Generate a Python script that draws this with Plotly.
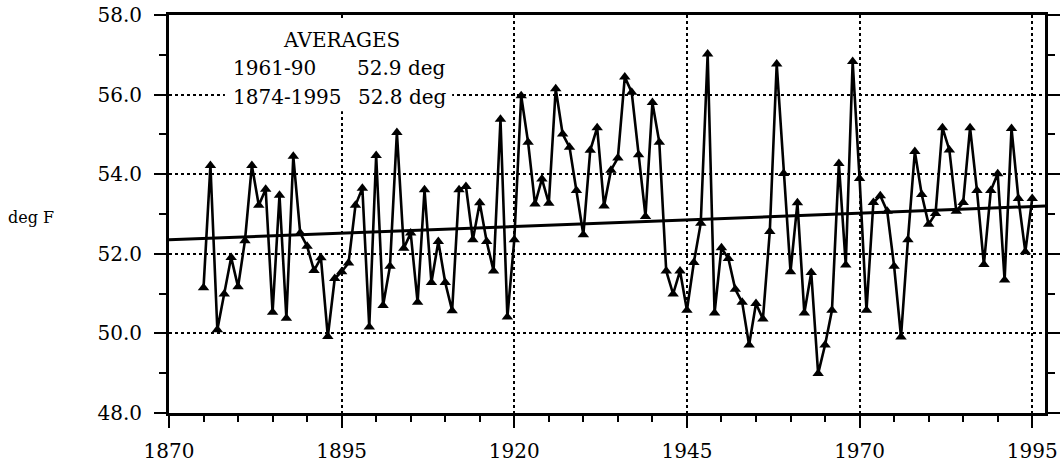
import plotly.graph_objects as go

# ---- data ----
years = list(range(1875, 1996))
temps = [
    51.15, 54.22, 50.09, 50.99, 51.91, 51.17, 52.33, 54.22, 53.22, 53.62,   # 1875-1884
    50.53, 53.47, 50.38, 54.45, 52.52, 52.19, 51.58, 51.90, 49.92, 51.38,   # 1885-1894
    51.55, 51.77, 53.22, 53.65, 50.16, 54.47, 50.70, 51.69, 55.05, 52.14,   # 1895-1904
    52.52, 50.78, 53.61, 51.28, 52.31, 51.28, 50.57, 53.61, 53.69, 52.35,   # 1905-1914
    53.28, 52.31, 51.57, 55.38, 50.41, 52.35, 55.97, 54.80, 53.25, 53.88,   # 1915-1924
    53.27, 56.15, 55.01, 54.68, 53.59, 52.48, 54.60, 55.17, 53.20, 54.10,   # 1925-1934
    54.41, 56.44, 56.06, 54.49, 52.94, 55.80, 54.80, 51.57, 50.99, 51.57,   # 1935-1944
    50.58, 51.78, 52.77, 57.02, 50.51, 52.15, 51.88, 51.11, 50.78, 49.71,   # 1945-1954
    50.75, 50.36, 52.56, 56.77, 54.02, 51.55, 53.28, 50.51, 51.53, 48.99,   # 1955-1964
    49.71, 50.58, 54.27, 51.72, 56.83, 53.89, 50.58, 53.29, 53.46, 53.07,   # 1965-1974
    51.69, 49.91, 52.35, 54.57, 53.49, 52.74, 53.01, 55.17, 54.61, 53.07,   # 1975-1984
    53.29, 55.17, 53.59, 51.73, 53.59, 54.01, 51.34, 55.15, 53.39, 52.05,   # 1985-1994
    53.39,                                                                  # 1995
]
assert len(years) == len(temps)

trend_years = [1870, 1996.85]
trend_vals = [52.35, 53.20]

x_ticks = [1870, 1895, 1920, 1945, 1970, 1995]
y_ticks = [48, 50, 52, 54, 56, 58]

FONT = "DejaVu Serif"

fig = go.Figure()
fig.add_trace(go.Scatter(
    x=years, y=temps, mode="lines+markers",
    line=dict(color="black", width=2.6),
    marker=dict(symbol="triangle-up", size=10, color="black"),
    showlegend=False,
))
fig.add_trace(go.Scatter(
    x=trend_years, y=trend_vals, mode="lines",
    line=dict(color="black", width=3),
    showlegend=False,
))

axis_common = dict(
    showline=True, linecolor="black", linewidth=3,
    ticks="outside", tickcolor="black", tickwidth=2, ticklen=12,
    showgrid=True, gridcolor="black", gridwidth=2, griddash="dot",
    zeroline=False, automargin=False, ticklabeloverflow="allow",
    tickfont=dict(family=FONT, size=20, color="black"),
)

fig.update_xaxes(
    range=[1870, 1996.85], tickvals=x_ticks, mirror=True,
    minor=dict(dtick=5, tick0=1870, ticks="outside", ticklen=6, tickwidth=2, tickcolor="black", showgrid=False),
    ticklabelstandoff=6,
    **axis_common,
)
fig.update_yaxes(
    range=[48, 58], tickvals=y_ticks, tickformat=".1f", mirror="ticks",
    minor=dict(dtick=1, tick0=48, ticks="outside", ticklen=7, tickwidth=2, tickcolor="black", showgrid=False),
    ticklabelstandoff=8,
    **axis_common,
)

# white box behind the averages text (hides the gridlines there)
fig.add_shape(type="rect", xref="x", yref="y", x0=1878.1, x1=1911.0, y0=55.58, y1=57.85,
              fillcolor="white", line=dict(width=0), layer="between")

txt = dict(family=FONT, size=20, color="black")
fig.add_annotation(x=0.197, y=0.937, xref="paper", yref="paper", text="AVERAGES",
                   showarrow=False, font=txt, xanchor="center", yanchor="middle")
fig.add_annotation(x=0.071, y=0.867, xref="paper", yref="paper", text="1961-90",
                   showarrow=False, font=txt, xanchor="left", yanchor="middle")
fig.add_annotation(x=0.212, y=0.867, xref="paper", yref="paper", text="52.9 deg",
                   showarrow=False, font=txt, xanchor="left", yanchor="middle")
fig.add_annotation(x=0.071, y=0.795, xref="paper", yref="paper", text="1874-1995",
                   showarrow=False, font=txt, xanchor="left", yanchor="middle")
fig.add_annotation(x=0.214, y=0.795, xref="paper", yref="paper", text="52.8 deg",
                   showarrow=False, font=txt, xanchor="left", yanchor="middle")

fig.add_annotation(x=-0.158, y=0.49, xref="paper", yref="paper", text="deg F",
                   showarrow=False, font=dict(family=FONT, size=16, color="black"),
                   xanchor="center", yanchor="middle")

fig.update_layout(
    width=1063, height=465,
    margin=dict(l=169, r=18, t=15, b=52),
    plot_bgcolor="white", paper_bgcolor="white",
    showlegend=False,
)

# remove the default page margin so the figure fills the window exactly
fig.write_html("out.html",
               config={"displayModeBar": False},
               post_script="document.body.style.margin='0';document.body.style.overflow='hidden';")
